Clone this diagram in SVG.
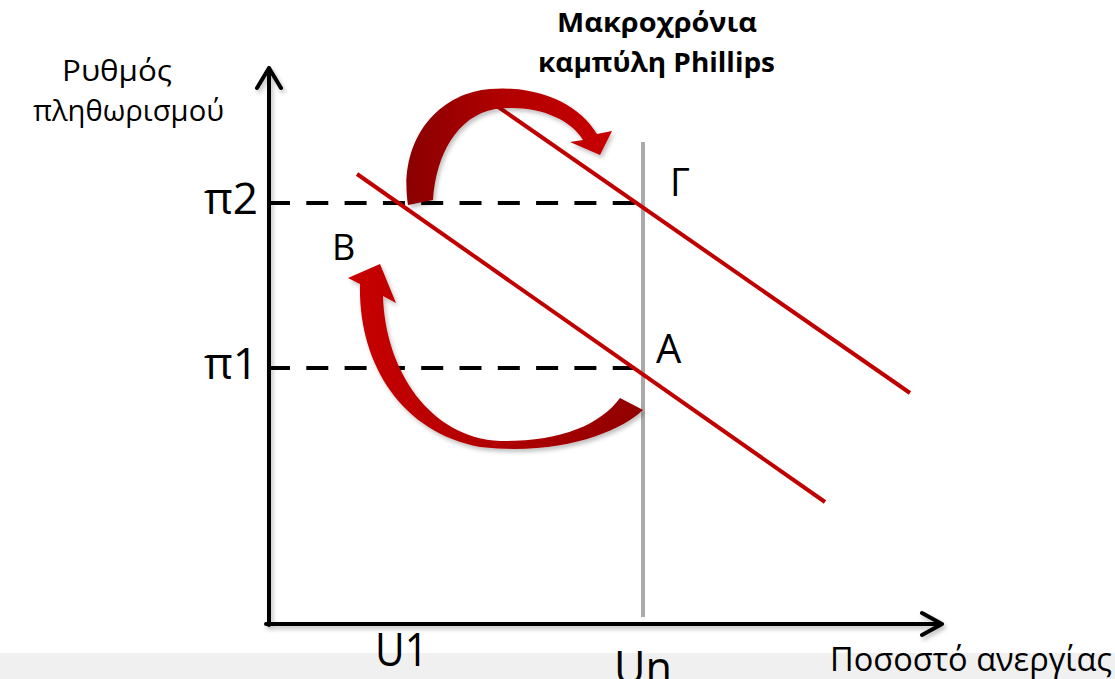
<svg xmlns="http://www.w3.org/2000/svg" width="1115" height="679" viewBox="0 0 1115 679">
<style>
.t{font-family:"Open Sans","Noto Sans","Liberation Sans",sans-serif;fill:#000}
.b{font-weight:bold}
.axis{stroke:#000;stroke-width:4;fill:none;stroke-linecap:round;stroke-linejoin:round}
.dash{stroke:#000;stroke-width:4;stroke-dasharray:22 16.3;fill:none}
.pc{stroke:#c00000;stroke-width:4;fill:none}
</style>
<defs>
<linearGradient id="gUp" x1="0" y1="0" x2="1" y2="0">
<stop offset="0" stop-color="#8a0000"/>
<stop offset="0.5" stop-color="#b30000"/>
<stop offset="1" stop-color="#c80000"/>
</linearGradient>
<linearGradient id="gLo" x1="1" y1="0" x2="0" y2="0">
<stop offset="0" stop-color="#900000"/>
<stop offset="0.5" stop-color="#b00000"/>
<stop offset="1" stop-color="#c80000"/>
</linearGradient>
<filter id="sh" x="-10%" y="-10%" width="130%" height="130%">
<feDropShadow dx="2" dy="3" stdDeviation="2" flood-color="#000" flood-opacity="0.25"/>
</filter>
</defs>
<rect x="0" y="653" width="1115" height="26" fill="#f0f0f0"/>
<g id="connectors">
<line class="dash" x1="268" y1="203" x2="640" y2="203"/>
<line class="dash" x1="268" y1="368" x2="640" y2="368"/>
<line x1="643" y1="142" x2="643" y2="617" stroke="#aaaaaa" stroke-width="4"/>
<g filter="url(#sh)">
<path class="axis" d="M269,625 V68 M257,88 L269,68 L281,88"/>
<path class="axis" d="M266,624 H942 M922,613 L942,624 L922,635"/>
</g>
<line class="pc" x1="357" y1="174" x2="825" y2="502"/>
<line class="pc" x1="481" y1="95" x2="910" y2="393"/>
<path id="arrow-up" filter="url(#sh)" fill="url(#gUp)" d="M408,205 C398,140 438,93 490,89 C540,85 580,105 597,134 L612,131 L600,155 L570,142 L583,140 C570,118 535,104 495,109 C457,116 436,155 433,200 Z"/>
<path id="arrow-low" filter="url(#sh)" fill="url(#gLo)" d="M380,264 L348,278 L360,284 C358,362 400,432 480,447 C560,456 620,432 643,410 L620,398 C600,425 560,442 500,441 C430,438 385,370 383,296 L396,303 Z"/>
</g>
<g id="title">
<text class="t b" x="557" y="32" font-size="26" textLength="200" lengthAdjust="spacingAndGlyphs">Μακροχρόνια</text>
<text class="t b" x="538" y="72" font-size="26" textLength="237" lengthAdjust="spacingAndGlyphs">καμπύλη Phillips</text>
</g>
<g id="y-label">
<text class="t" x="62" y="81" font-size="29" textLength="110" lengthAdjust="spacingAndGlyphs">Ρυθμός</text>
<text class="t" x="33" y="121" font-size="29" textLength="191" lengthAdjust="spacingAndGlyphs">πληθωρισμού</text>
</g>
<g id="pi2"><text class="t" x="204" y="214" font-size="44" textLength="54" lengthAdjust="spacingAndGlyphs">π2</text></g>
<g id="pi1"><text class="t" x="204" y="379" font-size="44" textLength="54" lengthAdjust="spacingAndGlyphs">π1</text></g>
<g id="B"><text class="t" x="332" y="260" font-size="36">B</text></g>
<g id="G"><text class="t" x="670" y="196" font-size="38">Γ</text></g>
<g id="A"><text class="t" x="656" y="363" font-size="40">A</text></g>
<g id="U1"><text class="t" x="375" y="666" font-size="46" textLength="53" lengthAdjust="spacingAndGlyphs">U1</text></g>
<g id="Un"><text class="t" x="614" y="684" font-size="46" textLength="58" lengthAdjust="spacingAndGlyphs">Un</text></g>
<g id="x-label"><text class="t" x="830" y="671" font-size="32" textLength="282" lengthAdjust="spacingAndGlyphs">Ποσοστό ανεργίας</text></g>
</svg>
